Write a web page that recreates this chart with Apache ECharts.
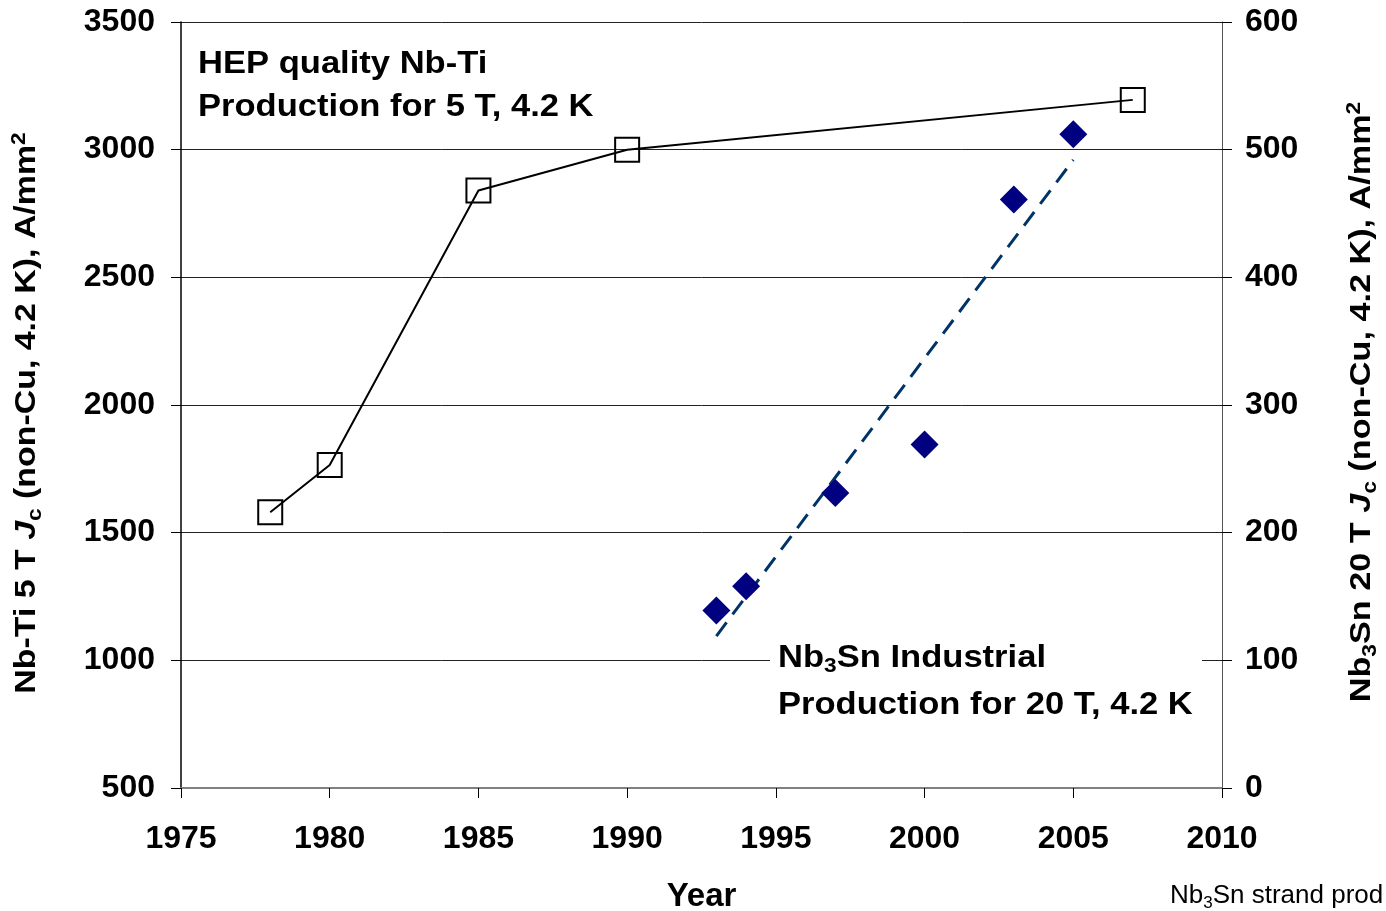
<!DOCTYPE html>
<html>
<head>
<meta charset="utf-8">
<script src="https://cdn.jsdelivr.net/npm/echarts@6/dist/echarts.min.js"></script>
<style>
  html, body { margin: 0; padding: 0; background: #fff; overflow: hidden; }
  #main { width: 1386px; height: 911px; }
</style>
</head>
<body>
<div id="main"></div>
<script>
// Nb-Ti (left axis), HEP quality production, 5 T
const nbtiYears = [1978, 1980, 1985, 1990, 2007];
const nbtiJc = [1580, 1765, 2840, 3000, 3195];
// Nb3Sn (right axis), industrial production, 20 T
const nb3snYears = [1993, 1994, 1997, 2000, 2003, 2005];
const nb3snJc = [139, 158, 231, 269, 461, 512];
// dashed trend line through the Nb3Sn points
const trendYears = [1993, 2005];
const trendJc = [119, 492];

const FONT = 'Liberation Sans, Arial, sans-serif';

function pairs(xs, ys) {
  return xs.map((x, i) => [x, ys[i]]);
}

// rich styles for the rotated axis titles (italic J, subscripts, superscript)
const titleRich = {
  a: { fontSize: 30, fontWeight: 'bold', fontFamily: FONT, fill: '#000' },
  i: { fontSize: 30, fontWeight: 'bold', fontStyle: 'italic', fontFamily: FONT, fill: '#000' },
  sub: { fontSize: 20, fontWeight: 'bold', fontFamily: FONT, fill: '#000', padding: [16, 0, 0, 0] },
  sup: { fontSize: 20, fontWeight: 'bold', fontFamily: FONT, fill: '#000', padding: [0, 0, 16, 0] }
};

const noComma = v => String(v);

const chart = echarts.init(document.getElementById('main'), null, { renderer: 'canvas' });

chart.setOption({
  animation: false,
  backgroundColor: '#fff',
  grid: { left: 181, right: 164, top: 22, bottom: 123, containLabel: false, outerBoundsMode: 'none' },
  xAxis: {
    type: 'value',
    min: 1975,
    max: 2010,
    interval: 5,
    name: 'Year',
    nameLocation: 'middle',
    nameGap: 92,
    nameTextStyle: { fontSize: 33, fontWeight: 'bold', fontFamily: FONT, color: '#000' },
    axisLine: { onZero: false, lineStyle: { color: '#808080', width: 2 } },
    axisTick: { show: true, length: 10, lineStyle: { color: '#000', width: 1 } },
    axisLabel: { margin: 35, fontSize: 32, fontWeight: 'bold', fontFamily: FONT, color: '#000', formatter: noComma },
    splitLine: { show: false }
  },
  yAxis: [
    {
      type: 'value',
      position: 'left',
      min: 500,
      max: 3500,
      interval: 500,
      axisLine: { show: true, lineStyle: { color: '#000', width: 1.5 } },
      axisTick: { show: true, length: 10, lineStyle: { color: '#000', width: 1 } },
      axisLabel: { margin: 26, fontSize: 32, fontWeight: 'bold', fontFamily: FONT, color: '#000', formatter: noComma },
      splitLine: { show: true, lineStyle: { color: '#222', width: 1 } }
    },
    {
      type: 'value',
      position: 'right',
      min: 0,
      max: 600,
      interval: 100,
      axisLine: { show: true, lineStyle: { color: '#555', width: 1 } },
      axisTick: { show: true, length: 10, lineStyle: { color: '#000', width: 1 } },
      axisLabel: { margin: 23, fontSize: 32, fontWeight: 'bold', fontFamily: FONT, color: '#000', formatter: noComma },
      splitLine: { show: false }
    }
  ],
  series: [
    {
      name: 'Nb-Ti',
      type: 'line',
      yAxisIndex: 0,
      data: pairs(nbtiYears, nbtiJc),
      symbol: 'rect',
      symbolSize: 24,
      lineStyle: { color: '#000', width: 2 },
      itemStyle: { color: 'rgba(0,0,0,0)', borderColor: '#000', borderWidth: 2, opacity: 1 },
      z: 3
    },
    {
      name: 'Nb3Sn trend',
      type: 'line',
      yAxisIndex: 1,
      data: pairs(trendYears, trendJc),
      symbol: 'none',
      lineStyle: { color: '#003366', width: 3, type: [17, 10] },
      z: 3
    },
    {
      name: 'Nb3Sn',
      type: 'scatter',
      yAxisIndex: 1,
      data: pairs(nb3snYears, nb3snJc),
      symbol: 'diamond',
      symbolSize: 28,
      itemStyle: { color: '#000080', opacity: 1 },
      z: 4
    }
  ],
  graphic: [
    // left axis title
    {
      type: 'text',
      x: 27,
      y: 413,
      rotation: Math.PI / 2,
      scaleX: 1.13,
      z: 10,
      style: {
        text: '{a|Nb-Ti 5 T }{i|J}{sub|c}{a| (non-Cu, 4.2 K), A/mm}{sup|2}',
        rich: titleRich,
        align: 'center',
        verticalAlign: 'middle'
      }
    },
    // right axis title
    {
      type: 'text',
      x: 1362,
      y: 402,
      rotation: Math.PI / 2,
      scaleX: 1.14,
      z: 10,
      style: {
        text: '{a|Nb}{sub|3}{a|Sn 20 T }{i|J}{sub|c}{a| (non-Cu, 4.2 K), A/mm}{sup|2}',
        rich: titleRich,
        align: 'center',
        verticalAlign: 'middle'
      }
    },
    {
      type: 'text',
      left: 198,
      top: 43,
      scaleX: 1.08,
      z: 10,
      style: {
        text: 'HEP quality Nb-Ti\nProduction for 5 T, 4.2 K',
        font: 'bold 32px ' + FONT,
        fill: '#000',
        lineHeight: 43
      }
    },
    {
      type: 'rect',
      left: 770,
      top: 636,
      z: 10,
      shape: { width: 432, height: 95 },
      style: { fill: '#fff' }
    },
    {
      type: 'text',
      left: 778,
      top: 640,
      scaleX: 1.08,
      z: 11,
      style: {
        text: '{a|Nb}{s|3}{a|Sn Industrial}\n{a|Production for 20 T, 4.2 K}',
        rich: {
          a: { fontSize: 32, fontWeight: 'bold', fontFamily: FONT, fill: '#000', lineHeight: 47 },
          s: { fontSize: 21, fontWeight: 'bold', fontFamily: FONT, fill: '#000', padding: [16, 0, 0, 0], lineHeight: 47 }
        }
      }
    },
    {
      type: 'text',
      left: 1170,
      top: 883,
      z: 10,
      style: {
        text: '{a|Nb}{s|3}{a|Sn strand prod}',
        rich: {
          a: { fontSize: 26, fontFamily: FONT, fill: '#000' },
          s: { fontSize: 17, fontFamily: FONT, fill: '#000', padding: [14, 0, 0, 0] }
        }
      }
    }
  ]
});
</script>
</body>
</html>
